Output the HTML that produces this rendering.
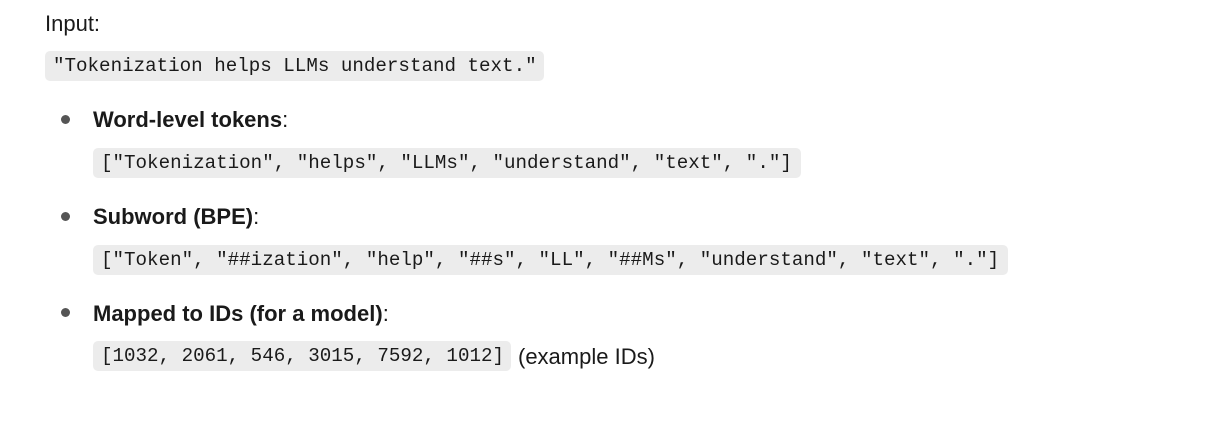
<!DOCTYPE html>
<html><head><meta charset="utf-8"><style>
body{margin:0;width:1215px;height:422px;background:#fff;position:relative;overflow:hidden;font-family:"Liberation Sans",sans-serif;color:#1a1a1a}
.t{position:absolute;font-size:22px;line-height:24px;white-space:nowrap}
.c{position:absolute;background:#ececec;border-radius:5px;height:30px;line-height:30px;font-family:"Liberation Mono",monospace;font-size:19.2px;padding:0 8px;white-space:nowrap;color:#1a1a1a;box-sizing:border-box}
.d{position:absolute;width:9px;height:9px;border-radius:50%;background:#555;left:61px}
b{font-weight:bold}
</style></head><body>
<div class="t" style="left:45px;top:12px">Input:</div>
<div class="c" style="left:45px;top:51px;width:499px">"Tokenization helps LLMs understand text."</div>
<div class="d" style="top:115px"></div>
<div class="t" style="left:93px;top:108px"><b>Word-level tokens</b>:</div>
<div class="c" style="left:93px;top:148px;width:708px">["Tokenization", "helps", "LLMs", "understand", "text", "."]</div>
<div class="d" style="top:212px"></div>
<div class="t" style="left:93px;top:205px"><b>Subword (BPE)</b>:</div>
<div class="c" style="left:93px;top:245px;width:915px">["Token", "##ization", "help", "##s", "LL", "##Ms", "understand", "text", "."]</div>
<div class="d" style="top:308px"></div>
<div class="t" style="left:93px;top:302px"><b>Mapped to IDs (for a model)</b>:</div>
<div class="c" style="left:93px;top:341px;width:418px">[1032, 2061, 546, 3015, 7592, 1012]</div>
<div class="t" style="left:518px;top:345px">(example IDs)</div>
</body></html>
